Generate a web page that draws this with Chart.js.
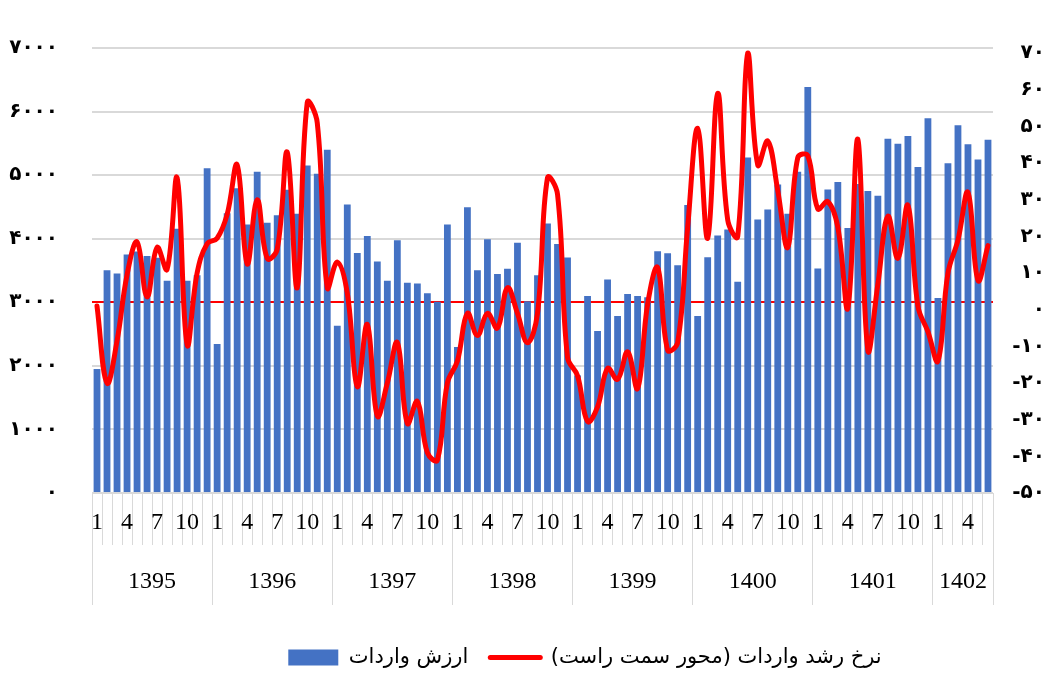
<!DOCTYPE html>
<html>
<head>
<meta charset="utf-8">
<script src="https://cdn.jsdelivr.net/npm/chart.js@4.4.0/dist/chart.umd.min.js"></script>
<style>
  html, body { margin: 0; padding: 0; background: #fff; }
  #wrap { width: 1060px; height: 677px; }
</style>
</head>
<body>
<div id="wrap"><canvas id="chart"></canvas></div>
<script>
// سال‌ها و تعداد ماه‌های هر سال
const years = ['1395', '1396', '1397', '1398', '1399', '1400', '1401', '1402'];
const monthsInYear = [12, 12, 12, 12, 12, 12, 12, 6];
const shownMonths = [1, 4, 7, 10];

// ارزش واردات (محور چپ)
const importValue = [
  1950, 3505, 3453, 3750, 3800, 3730, 3700, 3340, 4156, 3339, 3427, 5109,
  2344, 4401, 4792, 4224, 5052, 4250, 4370, 4771, 4391, 5150, 5020, 5400,
  2630, 4540, 3776, 4042, 3641, 3339, 3974, 3307, 3297, 3141, 3010, 4224,
  2297, 4495, 3505, 3990, 3443, 3526, 3938, 3016, 3427, 4240, 3917, 3703,
  1850, 3100, 2550, 3359, 2786, 3130, 3099, 3078, 3802, 3771, 3583, 4531,
  2786, 3708, 4052, 4146, 3323, 5276, 4302, 4458, 4854, 4391, 5052, 6385,
  3531, 4776, 4891, 4167, 4859, 4750, 4677, 5573, 5495, 5615, 5130, 5896,
  3068, 5188, 5786, 5484, 5245, 5557
];

// نرخ رشد واردات (محور راست)
const importGrowth = [
  1, -20, -8.5, 9.5, 18.5, 3.5, 17, 11, 36, -9.5, 10, 18,
  19.5, 26, 39.5, 12.5, 30, 14, 16.5, 43, 6, 56.5, 51, 6,
  13, 4.5, -21, -4, -29, -20, -9, -31, -25, -39, -41, -20,
  -14, -1, -7, -1, -5, 6, -1, -9, -1, 36, 31.5, -13,
  -18, -30.5, -26.5, -16, -19, -11.5, -21.5, 1.5, 11.5, -11, -9, 22.5,
  49.5, 19.5, 59, 24.5, 20, 70, 39.5, 46, 32.5, 17, 41.5, 42,
  27.5, 29.5, 22.5, 0.5, 46.5, -11, 7, 25.5, 14, 28.5, 1, -6,
  -14, 10, 19, 32, 8, 17.5
];

const baseline = 3000;

const faDigits = '۰۱۲۳۴۵۶۷۸۹';
function toFa(n) {
  return String(n).replace(/\d/g, d => faDigits[d]);
}

// برچسب ماه‌ها و مرز سال‌ها
const monthLabels = [];
const yearBounds = [-0.5];
const yearMid = {};
monthsInYear.forEach((n, k) => {
  for (let m = 1; m <= n; m++) monthLabels.push(String(m));
  const start = yearBounds[yearBounds.length - 1];
  yearMid[start + n / 2] = years[k];
  yearBounds.push(start + n);
});
const yearTicks = yearBounds.concat(Object.keys(yearMid).map(Number)).sort((a, b) => a - b);

const faFont = { family: "'DejaVu Sans'", size: 20, weight: 'bold' };
const serifFont = { family: "'Liberation Serif'", size: 24 };

new Chart(document.getElementById('chart'), {
  type: 'bar',
  data: {
    labels: monthLabels,
    datasets: [
      {
        type: 'bar',
        label: 'ارزش واردات',
        data: importValue,
        backgroundColor: '#4472C4',
        borderWidth: 0,
        barPercentage: 0.68,
        categoryPercentage: 1,
        yAxisID: 'y',
        order: 1,
        pointStyle: 'rect',
      },
      {
        type: 'line',
        label: 'نرخ رشد واردات (محور سمت راست)',
        data: importGrowth,
        borderColor: '#ff0000',
        backgroundColor: '#ff0000',
        borderWidth: 5,
        tension: 0.4,
        pointRadius: 0,
        pointHoverRadius: 0,
        borderCapStyle: 'round',
        borderJoinStyle: 'round',
        yAxisID: 'y1',
        order: 0,
        pointStyle: 'line',
      },
    ],
  },
  options: {
    responsive: true,
    maintainAspectRatio: false,
    animation: false,
    devicePixelRatio: 1,
    // negative right padding shifts the legend centre to the right, as in the source
    layout: { padding: { top: 48, right: -110, left: 0, bottom: 0 } },
    scales: {
      x: {
        type: 'category',
        position: 'bottom',
        offset: true,
        grid: { offset: true, drawOnChartArea: false, tickLength: 52, color: '#d9d9d9' },
        border: { display: true, color: '#d9d9d9' },
        ticks: {
          autoSkip: false,
          maxRotation: 0,
          minRotation: 0,
          padding: -36.4,
          color: '#000',
          font: serifFont,
          callback: function(v) {
            const l = this.getLabelForValue(v);
            return shownMonths.includes(Number(l)) ? l : '';
          },
        },
        afterFit: s => { s.height = 52; },
      },
      xYear: {
        type: 'linear',
        position: 'bottom',
        min: -0.5,
        max: 89.5,
        offset: false,
        grid: {
          offset: false,
          drawOnChartArea: false,
          tickLength: 60,
          color: ctx => (ctx.tick && yearBounds.includes(ctx.tick.value)) ? '#d9d9d9' : 'rgba(0,0,0,0)',
        },
        border: { display: false },
        afterBuildTicks: s => { s.ticks = yearTicks.map(v => ({ value: v })); },
        ticks: {
          autoSkip: false,
          maxRotation: 0,
          minRotation: 0,
          padding: -37.4,
          color: '#000',
          font: serifFont,
          callback: v => yearMid[v] || '',
        },
        afterFit: s => { s.height = 80; },
      },
      y: {
        position: 'left',
        min: 0,
        max: 7000,
        grid: { color: '#d9d9d9', lineWidth: 2, drawTicks: false },
        border: { display: false },
        ticks: { stepSize: 1000, padding: 34, color: '#000', font: faFont, callback: v => toFa(v) },
        afterFit: s => { s.width = 92; },
      },
      yRef: {
        position: 'left',
        min: 0,
        max: 7000,
        z: 1,
        grid: { color: '#ff0000', lineWidth: 2, drawTicks: false },
        border: { display: false },
        ticks: { display: false },
        afterBuildTicks: s => { s.ticks = [{ value: baseline }]; },
        afterFit: s => { s.width = 0; },
      },
      y1: {
        position: 'right',
        weight: 0,
        min: -50,
        max: 71.4,
        grid: { drawOnChartArea: false, drawTicks: false },
        border: { display: false },
        ticks: {
          stepSize: 10,
          includeBounds: false,
          padding: 0,
          crossAlign: 'far',
          color: '#000',
          font: faFont,
          callback: v => toFa(v),
        },
        afterBuildTicks: s => { s.ticks = s.ticks.filter(t => t.value % 10 === 0); },
        afterFit: s => { s.width = 52; },
      },
      ySpace: {
        position: 'right',
        weight: 1,
        min: 0,
        max: 1,
        grid: { display: false },
        border: { display: false },
        ticks: { display: false },
        afterFit: s => { s.width = 125; },
      },
    },
    plugins: {
      legend: {
        position: 'bottom',
        maxHeight: 52,
        labels: {
          usePointStyle: true,
          pointStyleWidth: 50,
          boxHeight: 16,
          padding: 22,
          color: '#000',
          font: { family: "'DejaVu Sans'", size: 21 },
          sort: (a, b) => a.datasetIndex - b.datasetIndex,
          generateLabels: chart => {
            const items = Chart.defaults.plugins.legend.labels.generateLabels(chart);
            items.forEach(it => {
              // RLM keeps the closing bracket inside the right-to-left run
              it.text = it.text + '\u200F';
              if (it.datasetIndex === 1) {
                it.lineWidth = 5;
                it.strokeStyle = '#ff0000';
                it.lineCap = 'round';
              }
            });
            return items;
          },
        },
      },
      tooltip: { enabled: true },
    },
  },
});
</script>
</body>
</html>
